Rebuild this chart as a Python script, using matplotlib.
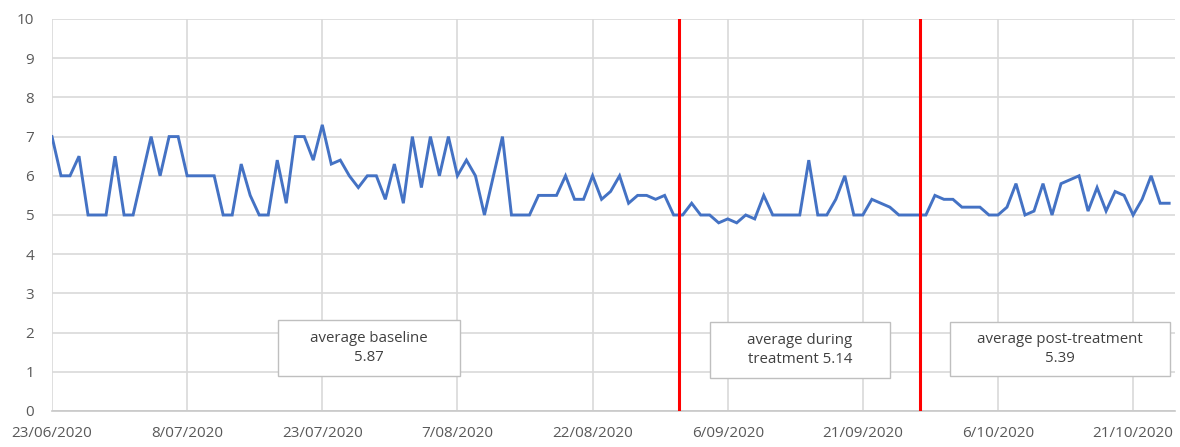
import numpy as np
import pandas as pd
import matplotlib
matplotlib.use("Agg")
import matplotlib.pyplot as plt
import matplotlib.dates as mdates
from matplotlib.patches import Rectangle
from matplotlib.ticker import FuncFormatter

# daily scores from 23/06/2020
start_date = "2020-06-23"
scores = [
    7, 6, 6, 6.5, 5, 5, 5, 6.5, 5, 5,
    6, 7, 6, 7, 7, 6, 6, 6, 6, 5,
    5, 6.3, 5.5, 5, 5, 6.4, 5.3, 7, 7, 6.4,
    7.3, 6.3, 6.4, 6, 5.7, 6, 6, 5.4, 6.3, 5.3,
    7, 5.7, 7, 6, 7, 6, 6.4, 6, 5, 6,
    7, 5, 5, 5, 5.5, 5.5, 5.5, 6, 5.4, 5.4,
    6, 5.4, 5.6, 6, 5.3, 5.5, 5.5, 5.4, 5.5, 5,
    5, 5.3, 5, 5, 4.8, 4.9, 4.8, 5, 4.9, 5.5,
    5, 5, 5, 5, 6.4, 5, 5, 5.4, 6, 5,
    5, 5.4, 5.3, 5.2, 5, 5, 5, 5, 5.5, 5.4,
    5.4, 5.2, 5.2, 5.2, 5, 5, 5.2, 5.8, 5, 5.1,
    5.8, 5, 5.8, 5.9, 6, 5.1, 5.7, 5.1, 5.6, 5.5,
    5, 5.4, 6, 5.3, 5.3,
]
dates = pd.date_range(start_date, periods=len(scores), freq="D")

# treatment start / end (days after start)
phase_marks = [69.6, 96.4]
phase_labels = ["average baseline\n5.87",
                "average during\ntreatment 5.14",
                "average post-treatment\n5.39"]

plt.rcParams["font.family"] = ["Open Sans", "DejaVu Sans"]

fig = plt.figure(figsize=(11.8, 4.47), dpi=100)
W, H = 1180, 447
ax = fig.add_axes([52 / W, 1 - 411 / H, (1175 - 52) / W, (411 - 19) / H])

x = mdates.date2num(dates)
ax.plot(x, scores, color="#4472C4", lw=2.1, solid_joinstyle="miter", zorder=3)

for m in phase_marks:
    ax.axvline(x[0] + m, color="#FF0000", lw=2.2, zorder=4)

ax.set_ylim(0, 10)
ax.set_yticks(range(0, 11))
ax.set_xlim(x[0], x[-1] + 0.65)
ax.set_xticks(x[0] + np.arange(0, len(scores), 15))
ax.xaxis.set_major_formatter(FuncFormatter(
    lambda v, p: (lambda d: f"{d.day}/{d.month:02d}/{d.year}")(mdates.num2date(v))))

ax.grid(True, color="#d9d9d9", lw=1.2, zorder=0)
for s in ["top", "right", "left"]:
    ax.spines[s].set_visible(False)
ax.spines["bottom"].set_color("#c8c8c8")
ax.spines["bottom"].set_linewidth(1.2)
ax.tick_params(axis="both", length=0, colors="#595959", labelsize=11)
ax.tick_params(axis="y", pad=13)
ax.tick_params(axis="x", pad=11)

# annotation boxes in pixel space
boxes = [(278, 320, 182, 56), (710, 322, 180, 56), (950, 322, 220, 54)]
for (bx, by, bw, bh), label in zip(boxes, phase_labels):
    fig.patches.append(Rectangle((bx / W, 1 - (by + bh) / H), bw / W, bh / H,
                                 transform=fig.transFigure, facecolor="white",
                                 edgecolor="#bfbfbf", lw=1.0, zorder=5))
    fig.text((bx + bw / 2) / W, 1 - (by + bh / 2) / H, label, ha="center",
             va="center", fontsize=10.8, color="#404040", linespacing=1.3,
             zorder=6)

fig.savefig("out.png", dpi=100)
